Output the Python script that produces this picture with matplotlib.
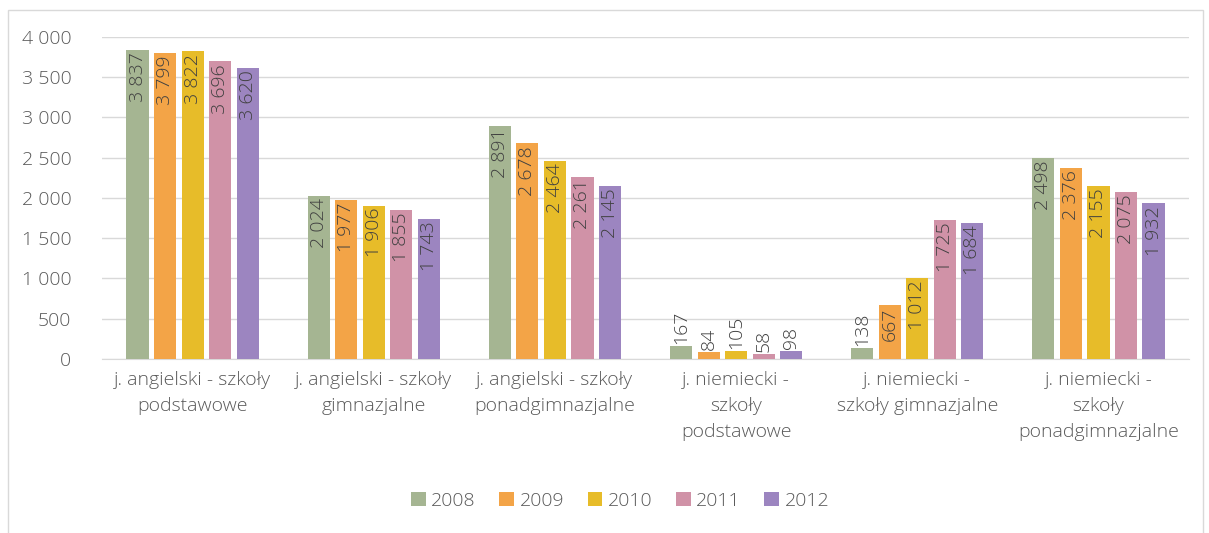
import matplotlib.pyplot as plt
import numpy as np
from matplotlib.patches import Rectangle, Patch

categories = [
    "j. angielski - szkoły\npodstawowe",
    "j. angielski - szkoły\ngimnazjalne",
    "j. angielski - szkoły\nponadgimnazjalne",
    "j. niemiecki -\nszkoły\npodstawowe",
    "j. niemiecki -\nszkoły gimnazjalne",
    "j. niemiecki -\nszkoły\nponadgimnazjalne",
]
years = ["2008", "2009", "2010", "2011", "2012"]
v2008 = [3837, 2024, 2891, 167, 138, 2498]
v2009 = [3799, 1977, 2678, 84, 667, 2376]
v2010 = [3822, 1906, 2464, 105, 1012, 2155]
v2011 = [3696, 1855, 2261, 58, 1725, 2075]
v2012 = [3620, 1743, 2145, 98, 1684, 1932]
colors = ["#A5B592", "#F3A447", "#E7BC29", "#D092A7", "#9C85C0"]

plt.rcParams["font.family"] = ["Open Sans", "DejaVu Sans"]
plt.rcParams["font.weight"] = "light"
text_color = "#595959"

fig = plt.figure(figsize=(12.09, 5.33), dpi=100)
ax = fig.add_axes([0.0844, 0.3265, 0.8991, 0.6041])

# chart border
fig.patches.append(Rectangle((8 / 1209, -0.1), 1195 / 1209, 1.1 - 10 / 533,
                             transform=fig.transFigure, fill=False,
                             edgecolor="#D9D9D9", linewidth=1))

x = np.arange(len(categories))
width = 0.122
step = 0.152
series = [v2008, v2009, v2010, v2011, v2012]
for i, (vals, col, yr) in enumerate(zip(series, colors, years)):
    pos = x + (i - 2) * step
    bars = ax.bar(pos, vals, width, color=col, label=yr, zorder=3)
    for b, v in zip(bars, vals):
        lbl = f"{v:,}".replace(",", " ")
        cx = b.get_x() + b.get_width() / 2
        if v > 300:
            ax.text(cx, v - 30, lbl, rotation=90, ha="center", va="top",
                    fontsize=14, color="#404040", zorder=4)
        else:
            ax.text(cx, v + 25, lbl, rotation=90, ha="center", va="bottom",
                    fontsize=14, color="#404040", zorder=4)

ax.set_xlim(-0.5, len(categories) - 0.5)
ax.set_ylim(0, 4000)
ax.set_yticks(range(0, 4001, 500))
ax.set_yticklabels([f"{t:,}".replace(",", " ") for t in range(0, 4001, 500)])
ax.set_xticks(x)
ax.set_xticklabels(categories, linespacing=1.55)
ax.tick_params(axis="both", length=0, colors=text_color, labelsize=14)
ax.tick_params(axis="y", pad=22)
ax.tick_params(axis="x", pad=9)
ax.grid(axis="y", color="#D9D9D9", linewidth=1, zorder=0)
for s in ["top", "right", "left"]:
    ax.spines[s].set_visible(False)
ax.spines["bottom"].set_color("#D9D9D9")

handles = [Patch(facecolor=c, label=y) for c, y in zip(colors, years)]
fig.legend(handles=handles, loc="center", bbox_to_anchor=(0.513, 0.06), ncol=5,
           frameon=False, fontsize=14, handlelength=0.75, handleheight=0.75,
           handletextpad=0.3, columnspacing=1.2, labelcolor=text_color)

fig.savefig("out.png", dpi=100)
